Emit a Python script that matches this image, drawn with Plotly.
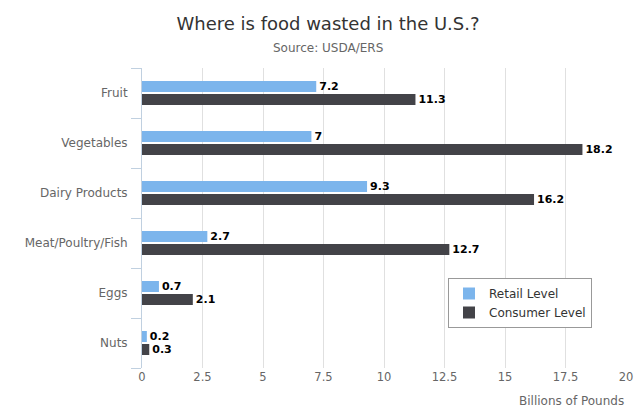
import plotly.graph_objects as go

categories = ["Fruit", "Vegetables", "Dairy Products", "Meat/Poultry/Fish", "Eggs", "Nuts"]
retail = [7.2, 7, 9.3, 2.7, 0.7, 0.2]
consumer = [11.3, 18.2, 16.2, 12.7, 2.1, 0.3]
x_ticks = [0, 2.5, 5, 7.5, 10, 12.5, 15, 17.5, 20]

FONT = "DejaVu Sans"
L, R, T, B = 142, 14, 68, 50
W, H = 640, 418
plot_w = W - L - R
plot_h = H - T - B

fig = go.Figure()
# consumer first so retail sits on top within each horizontal group
fig.add_trace(go.Bar(
    y=categories, x=consumer, name="Consumer Level", orientation="h",
    marker=dict(color="#434348", line=dict(width=0)),
    text=[f"{v:g}" for v in consumer], textposition="outside", cliponaxis=False,
    constraintext="none",
    textfont=dict(family=FONT, size=11, color="#000000", weight="bold"),
))
fig.add_trace(go.Bar(
    y=categories, x=retail, name="Retail Level", orientation="h",
    marker=dict(color="#7cb5ec", line=dict(width=0)),
    text=[f"{v:g}" for v in retail], textposition="outside", cliponaxis=False,
    constraintext="none",
    textfont=dict(family=FONT, size=11, color="#000000", weight="bold"),
))

fig.update_layout(
    width=W, height=H,
    margin=dict(l=L, r=R, t=T, b=B, autoexpand=False),
    paper_bgcolor="white", plot_bgcolor="white",
    barmode="group", bargap=0.48, bargroupgap=0.15,
    font=dict(family=FONT, color="#666666"),
    title=dict(text="Where is food wasted in the U.S.?", x=328 / W, xanchor="center",
               xref="container", y=1 - 24 / H, yanchor="middle",
               font=dict(family=FONT, size=18, color="#333333")),
    annotations=[
        dict(text="Source: USDA/ERS", x=(328 - L) / plot_w, xref="paper", xanchor="center",
             y=1 + (T - 48) / plot_h, yref="paper", showarrow=False, yanchor="middle",
             font=dict(family=FONT, size=12, color="#666666")),
        dict(text="Billions of Pounds", x=1, xref="paper", xanchor="right",
             y=-(401 - (H - B)) / plot_h, yref="paper", yanchor="middle", showarrow=False,
             font=dict(family=FONT, size=12, color="#666666")),
    ],
    xaxis=dict(range=[0, 20], tickvals=x_ticks, ticktext=[f"{t:g}" for t in x_ticks],
               showgrid=True, gridcolor="#e0e0e0", gridwidth=1, zeroline=False,
               showline=False, ticks="", automargin=False,
               tickfont=dict(family=FONT, size=11.5, color="#666666")),
    yaxis=dict(categoryorder="array", categoryarray=categories[::-1], autorange=False,
               range=[-0.5, 5.5], showline=True, linecolor="#c0d0e0", linewidth=1,
               ticks="outside", tickson="boundaries", ticklen=10, tickcolor="#c0d0e0",
               ticklabelstandoff=11, automargin=False,
               showgrid=False, tickfont=dict(family=FONT, size=12, color="#666666")),
    legend=dict(x=(448 - L) / plot_w, y=1 - (278 - T) / plot_h, xanchor="left", yanchor="top",
                bgcolor="white", bordercolor="#999999", borderwidth=1,
                traceorder="reversed", tracegroupgap=0,
                font=dict(family=FONT, size=12, color="#333333"),
                itemsizing="constant", itemwidth=30),
)

fig.write_html("out.html", config={"displayModeBar": False},
               post_script="document.body.style.margin='0';document.body.style.padding='0';")
